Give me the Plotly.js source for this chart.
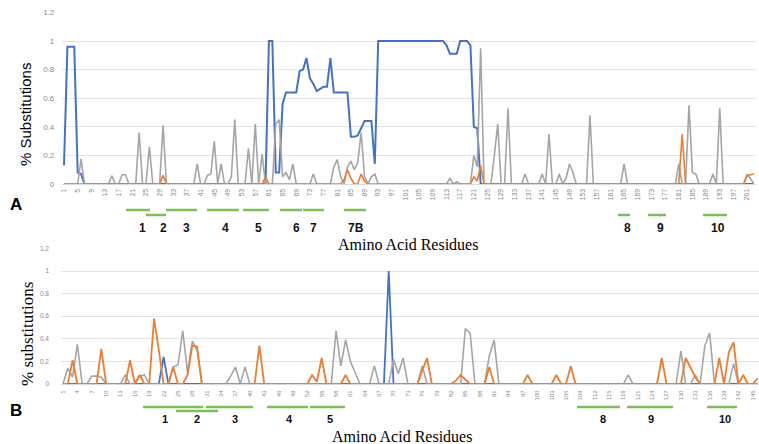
<!DOCTYPE html>
<html>
<head>
<meta charset="utf-8">
<script src="https://cdn.plot.ly/plotly-3.0.1.min.js"></script>
<style>html,body{margin:0;padding:0;background:#fff;}#chart{width:759px;height:444px;}</style>
</head>
<body>
<div id="chart"></div>
<script>
// ---------- Panel A data (residues 1..203) ----------
const residuesA = Array.from({length: 203}, (_, i) => i + 1);
const blueA = [
0.13,0.96,0.96,0.96,0.08,0.07,0,0,0,0,
0,0,0,0,0,0,0,0,0,0,
0,0,0,0,0,0,0,0,0,0,
0,0,0,0,0,0,0,0,0,0,
0,0,0,0,0,0,0,0,0,0,
0,0,0,0,0,0,0,0,0,0,
1.0,1.0,0.08,0.08,0.56,0.64,0.64,0.64,0.64,0.79,
0.80,0.88,0.74,0.70,0.65,0.665,0.68,0.68,0.88,0.64,
0.64,0.64,0.64,0.64,0.33,0.33,0.34,0.39,0.44,0.44,
0.44,0.14,1,1,1,1,1,1,1,1,
1,1,1,1,1,1,1,1,1,1,
1,1,0.97,0.91,0.91,0.91,1,1,1,0.97,
0.40,0.39,0,0,0,0,0,0,0,0,
0,0,0,0,0,0,0,0,0,0,
0,0,0,0,0,0,0,0,0,0,
0,0,0,0,0,0,0,0,0,0,
0,0,0,0,0,0,0,0,0,0,
0,0,0,0,0,0,0,0,0,0,
0,0,0,0,0,0,0,0,0,0,
0,0,0,0,0,0,0,0,0,0,
0,0,0
];
const grayA = [
0,0,0,0,0,0.175,0,0,0,0,
0,0,0,0,0.058,0,0,0.065,0.065,0,
0,0,0.36,0,0,0.26,0,0,0,0.41,
0,0,0,0,0,0,0,0,0,0.14,
0,0,0.06,0.07,0.30,0,0.14,0,0,0.05,
0.45,0,0,0,0.25,0,0.42,0,0.21,0,
0,0,0.42,0.45,0.05,0.08,0.03,0.14,0,0,
0,0,0,0.07,0,0,0,0,0,0.12,
0.17,0.05,0,0.12,0.16,0.10,0.15,0.36,0.05,0,
0.05,0.07,0,0,0,0,0,0,0,0,
0,0,0,0,0,0,0,0,0,0,
0,0,0,0.04,0,0.015,0,0,0,0,
0.20,0.12,0.95,0,0,0,0.20,0.42,0,0,
0.53,0,0,0,0,0.07,0,0,0,0,
0.07,0,0.35,0,0,0.07,0,0.04,0.14,0.08,
0,0,0,0,0.48,0,0,0,0,0,
0,0,0,0,0.14,0,0,0,0,0,
0,0,0,0,0,0,0,0,0,0,
0.14,0,0,0.55,0.08,0.07,0,0,0,0,
0.07,0,0.53,0,0,0,0,0,0,0,
0.065,0.04,0
];
const orangeA = [
0,0,0,0,0,0,0,0,0,0,
0,0,0,0,0,0,0,0,0,0,
0,0,0,0,0,0,0,0,0,0.06,
0,0,0,0,0,0,0,0,0,0,
0,0,0,0,0,0,0,0,0,0,
0,0,0,0,0,0,0,0,0,0.05,
0,0,0,0,0,0,0,0,0,0,
0,0,0,0,0,0,0,0,0,0,
0,0,0.03,0.10,0.04,0,0,0.07,0.02,0,
0,0,0,0,0,0,0,0,0,0,
0,0,0,0,0,0,0,0,0,0,
0,0,0,0,0,0,0,0,0,0,
0.05,0.02,0.13,0,0,0,0,0,0,0,
0,0,0,0,0,0,0,0,0,0,
0,0,0,0,0,0,0,0,0,0,
0,0,0,0,0,0,0,0,0,0,
0,0,0,0,0,0,0,0,0,0,
0,0,0,0,0,0,0,0,0,0,
0,0.35,0,0,0,0,0,0,0,0,
0,0,0,0,0,0,0,0,0,0,
0.06,0.065,0.07
];
const ticksA = [1,5,9,13,17,21,25,29,33,37,41,45,49,53,57,61,65,69,73,77,81,85,89,93,97,101,105,109,113,117,121,125,129,133,137,141,145,149,153,157,161,165,169,173,177,181,185,189,193,197,201];

// ---------- Panel B data (residues 1..146) ----------
const residuesB = Array.from({length: 146}, (_, i) => i + 1);
const blueB = [
0,0,0,0,0,0,0,0,0,0,
0,0,0,0,0,0,0,0,0,0,
0,0.24,0,0,0,0,0,0,0,0,
0,0,0,0,0,0,0,0,0,0,
0,0,0,0,0,0,0,0,0,0,
0,0,0,0,0,0,0,0,0,0,
0,0,0,0,0,0,0,0,1.0,0,
0,0,0,0,0,0,0,0,0,0,
0,0,0,0,0,0,0,0,0,0,
0,0,0,0,0,0,0,0,0,0,
0,0,0,0,0,0,0,0,0,0,
0,0,0,0,0,0,0,0,0,0,
0,0,0,0,0,0,0,0,0,0,
0,0,0,0,0,0,0,0,0,0,
0,0,0,0,0,0
];
const grayB = [
0,0.14,0.06,0.35,0,0,0.07,0.07,0.06,0,
0,0,0,0.08,0,0,0.07,0.08,0,0,
0,0,0,0.15,0.17,0.47,0.10,0.38,0.30,0,
0,0,0,0,0,0.07,0.15,0,0.15,0,
0,0,0,0,0,0,0,0,0,0,
0,0,0,0,0,0,0,0.47,0.16,0.39,
0.20,0.10,0,0,0,0.16,0,0,0,0.22,
0.09,0.23,0,0,0,0.16,0,0,0,0,
0,0,0,0,0.49,0.45,0,0,0,0.25,
0.39,0,0,0,0,0,0,0,0,0,
0,0,0,0,0,0,0,0,0,0,
0,0,0,0,0,0,0,0,0.08,0,
0,0,0,0,0,0,0,0,0,0.29,
0,0,0.08,0,0.34,0.45,0,0,0,0,
0.18,0,0,0,0,0
];
const orangeB = [
0,0,0.21,0,0,0,0,0,0.31,0,
0,0,0,0,0.21,0,0.08,0,0,0.58,
0.30,0,0,0.15,0,0,0.08,0.34,0.33,0,
0,0,0,0,0,0,0,0,0,0,
0,0.34,0,0,0,0,0,0,0,0,
0,0,0.08,0.02,0.23,0,0,0,0,0.08,
0,0,0,0,0,0,0,0,0,0,
0,0,0,0,0,0.12,0.23,0,0,0,
0,0,0.03,0.08,0.04,0,0,0,0,0.15,
0,0,0,0,0,0,0,0.08,0,0,
0,0,0,0.08,0,0,0.16,0,0,0,
0,0,0,0,0,0,0,0,0,0,
0,0,0,0,0,0.23,0,0,0,0,
0.23,0.15,0.06,0,0,0,0,0.23,0,0.28,
0.37,0,0.08,0,0,0.05
];
const ticksB = [1,4,7,10,13,16,19,22,25,28,31,34,37,40,43,46,49,52,55,58,61,64,67,70,73,76,79,82,85,88,91,94,97,100,103,106,109,112,115,118,121,124,127,130,133,136,139,142,145];

// Region annotations (helix/segment labels)
const segLabelsA = ['1','2','3','4','5','6','7','7B','8','9','10'];
const segLabelsB = ['1','2','3','4','5','8','9','10'];

// ---------- Styling / layout ----------
const W = 759, H = 444;
const px = x => x / W;
const py = y => 1 - y / H;
const BLUE = '#4472C4', GRAY = '#A5A5A5', ORANGE = '#ED7D31', GREEN = '#7CBF55';

function line(x, y, color, w, xa, ya) {
  return {x: x, y: y, type: 'scatter', mode: 'lines', xaxis: xa, yaxis: ya,
          line: {color: color, width: w}, hoverinfo: 'skip', showlegend: false};
}
const traces = [
  line(residuesA, blueA, BLUE, 2, 'x', 'y'),
  line(residuesA, grayA, GRAY, 1.6, 'x', 'y'),
  line(residuesA, orangeA, ORANGE, 1.6, 'x', 'y'),
  line(residuesB, blueB, BLUE, 1.8, 'x2', 'y2'),
  line(residuesB, grayB, GRAY, 1.6, 'x2', 'y2'),
  line(residuesB, orangeB, ORANGE, 1.8, 'x2', 'y2')
];

const yTicks = [0, 0.2, 0.4, 0.6, 0.8, 1, 1.2];
const yText = ['0', '0.2', '0.4', '0.6', '0.8', '1', '1.2'];

// segment pixel geometry [x0, x1, y]
const segGeoA = [[126,150,210],[146,166,215],[166,197,210],[207,239,210],[243,269,210],[280,302,210],[303,324,210],[344,366,210],[618,630,215],[648,666,215],[703,727,215]];
const segLabPosA = [142,163,186,225,258,296,313,356,627,660,718];
const segGeoB = [[143,203,407],[176,218,411],[206,253,407],[267,308,407],[310,345,407],[577,620,407],[627,673,407],[707,737,407]];
const segLabPosB = [165,197,235,289,330,603,651,725];

const shapes = [];
const annotations = [];
segGeoA.forEach(s => shapes.push({type:'line', xref:'paper', yref:'paper', x0:px(s[0]), x1:px(s[1]), y0:py(s[2]), y1:py(s[2]), line:{color:GREEN, width:2.5}}));
segGeoB.forEach(s => shapes.push({type:'line', xref:'paper', yref:'paper', x0:px(s[0]), x1:px(s[1]), y0:py(s[2]), y1:py(s[2]), line:{color:GREEN, width:2.5}}));
segLabelsA.forEach((t, i) => annotations.push({text:'<b>'+t+'</b>', xref:'paper', yref:'paper', x:px(segLabPosA[i]), y:py(228), xanchor:'center', yanchor:'middle', showarrow:false, font:{family:'Liberation Sans', size:12, color:'#111'}}));
segLabelsB.forEach((t, i) => annotations.push({text:'<b>'+t+'</b>', xref:'paper', yref:'paper', x:px(segLabPosB[i]), y:py(419), xanchor:'center', yanchor:'middle', showarrow:false, font:{family:'Liberation Sans', size:11, color:'#111'}}));

annotations.push({text:'% Substitutions', textangle:-90, xref:'paper', yref:'paper', x:px(25), y:py(115), xanchor:'center', yanchor:'middle', showarrow:false, font:{family:'Liberation Sans', size:15, color:'#000'}});
annotations.push({text:'% substitutions', textangle:-90, xref:'paper', yref:'paper', x:px(27), y:py(334), xanchor:'center', yanchor:'middle', showarrow:false, font:{family:'Liberation Serif', size:17, color:'#000'}});
annotations.push({text:'Amino Acid Residues', xref:'paper', yref:'paper', x:px(408), y:py(244), xanchor:'center', yanchor:'middle', showarrow:false, font:{family:'Liberation Serif', size:16, color:'#000'}});
annotations.push({text:'Amino Acid Residues', xref:'paper', yref:'paper', x:px(402), y:py(436), xanchor:'center', yanchor:'middle', showarrow:false, font:{family:'Liberation Serif', size:16, color:'#000'}});
annotations.push({text:'<b>A</b>', xref:'paper', yref:'paper', x:px(16), y:py(204), xanchor:'center', yanchor:'middle', showarrow:false, font:{family:'Liberation Sans', size:17, color:'#000'}});
annotations.push({text:'<b>B</b>', xref:'paper', yref:'paper', x:px(16), y:py(410), xanchor:'center', yanchor:'middle', showarrow:false, font:{family:'Liberation Sans', size:17, color:'#000'}});

const tickFont = {family:'Liberation Sans', size:7, color:'#8a8a8a'};
const layout = {
  width: W, height: H,
  margin: {l:0, r:0, t:0, b:0},
  paper_bgcolor: '#fff', plot_bgcolor: '#fff',
  showlegend: false,
  xaxis: {domain:[px(62.3), px(755.6)], range:[0.5, 203.5], tickmode:'array', tickvals:ticksA, ticktext:ticksA.map(String),
          tickangle:-90, tickfont:tickFont, showgrid:false, zeroline:false, showline:true, linecolor:'#d9d9d9', linewidth:1, ticks:'', ticklabelstandoff:1, fixedrange:true},
  yaxis: {domain:[py(184), py(12.4)], range:[0, 1.2], tickmode:'array', tickvals:yTicks, ticktext:yText, tickfont:{family:'Liberation Sans', size:8, color:'#8a8a8a'},
          showgrid:true, gridcolor:'#e3e3e3', gridwidth:1, zeroline:false, showline:false, ticks:'', ticklabelstandoff:7, fixedrange:true},
  xaxis2: {anchor:'y2', domain:[px(61), 1], range:[0.58, 146.3], tickmode:'array', tickvals:ticksB, ticktext:ticksB.map(String),
          tickangle:-90, tickfont:{family:'Liberation Sans', size:6, color:'#8a8a8a'}, showgrid:false, zeroline:false, showline:true, linecolor:'#d9d9d9', linewidth:1, ticks:'', ticklabelstandoff:3, fixedrange:true},
  yaxis2: {anchor:'x2', domain:[py(384), py(248.4)], range:[0, 1.2], tickmode:'array', tickvals:yTicks, ticktext:yText, tickfont:{family:'Liberation Sans', size:6.5, color:'#8a8a8a'},
          showgrid:true, gridcolor:'#e3e3e3', gridwidth:1, zeroline:false, showline:false, ticks:'', ticklabelstandoff:11, fixedrange:true},
  shapes: shapes,
  annotations: annotations
};
layout.xaxis.anchor = 'y';
layout.yaxis.anchor = 'x';

Plotly.newPlot('chart', traces, layout, {displayModeBar:false, staticPlot:true});
</script>
</body>
</html>
